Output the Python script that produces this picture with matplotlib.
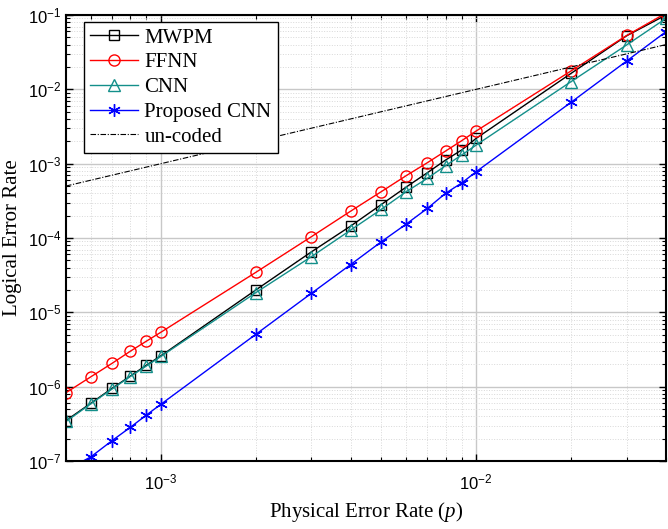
import matplotlib
matplotlib.use("Agg")
import matplotlib.pyplot as plt
from matplotlib.ticker import LogLocator, NullFormatter, FixedLocator, LogFormatterSciNotation
from matplotlib.lines import Line2D

p = [5e-4, 6e-4, 7e-4, 8e-4, 9e-4, 1e-3, 2e-3, 3e-3, 4e-3, 5e-3,
     6e-3, 7e-3, 8e-3, 9e-3, 1e-2, 2e-2, 3e-2, 4e-2]

mwpm = [3.5e-7, 6.0e-7, 9.5e-7, 1.39e-6, 1.95e-6, 2.6e-6, 2.0e-5, 6.5e-5, 1.45e-4, 2.82e-4,
        4.85e-4, 7.55e-4, 1.12e-3, 1.53e-3, 2.19e-3, 1.64e-2, 5.25e-2, 1.0e-1]
ffnn = [8.3e-7, 1.36e-6, 2.06e-6, 3.0e-6, 4.1e-6, 5.4e-6, 3.45e-5, 1.04e-4, 2.3e-4, 4.2e-4,
        6.9e-4, 1.03e-3, 1.48e-3, 2.04e-3, 2.75e-3, 1.77e-2, 5.3e-2, 1.06e-1]
cnn = [3.4e-7, 5.9e-7, 9.3e-7, 1.37e-6, 1.9e-6, 2.55e-6, 1.84e-5, 5.6e-5, 1.28e-4, 2.43e-4,
       4.2e-4, 6.35e-4, 9.4e-4, 1.31e-3, 1.78e-3, 1.27e-2, 3.95e-2, 9.0e-2]
proposed = [7.5e-8, 1.14e-7, 1.88e-7, 2.84e-7, 4.16e-7, 5.8e-7, 5.06e-6, 1.8e-5, 4.4e-5, 8.9e-5,
            1.54e-4, 2.5e-4, 4.0e-4, 5.5e-4, 7.8e-4, 6.7e-3, 2.4e-2, 5.97e-2]
uncoded_p = [5e-4, 4e-2]
uncoded = [5e-4, 4e-2]

x_major = [1e-3, 1e-2]
y_major = [1e-7, 1e-6, 1e-5, 1e-4, 1e-3, 1e-2, 1e-1]

labels = ['MWPM', 'FFNN', 'CNN', 'Proposed CNN', 'un-coded']

serif = ['Liberation Serif', 'DejaVu Serif']

plt.rcParams['font.family'] = ['Liberation Sans', 'DejaVu Sans']
plt.rcParams['mathtext.fontset'] = 'custom'
plt.rcParams['mathtext.rm'] = 'Liberation Sans'
plt.rcParams['mathtext.it'] = 'Liberation Serif:italic'
plt.rcParams['mathtext.bf'] = 'Liberation Sans:bold'
plt.rcParams['xtick.labelsize'] = 12
plt.rcParams['ytick.labelsize'] = 12

TEAL = '#138f8a'

fig = plt.figure(figsize=(6.68, 5.29), dpi=100)
ax = fig.add_axes([66/668, 68/529, 600/668, 446/529])

ax.plot(p, mwpm, color='black', lw=1, marker='s', mfc='none', mec='black', ms=7, mew=1)
ax.plot(p, ffnn, color='red', lw=1, marker='o', mfc='none', mec='red', ms=8, mew=1)
ax.plot(p, cnn, color=TEAL, lw=1, marker='^', mfc='none', mec=TEAL, ms=8, mew=1)
ax.plot(p, proposed, color='blue', lw=1, marker=(6, 2, 0), mec='blue', ms=9, mew=1)
ax.plot(uncoded_p, uncoded, color='black', lw=0.8, dashes=[5, 1.5, 1, 1.5])

ax.set_xscale('log')
ax.set_yscale('log')
ax.set_xlim(5e-4, 4e-2)
ax.set_ylim(1e-7, 1e-1)

ax.xaxis.set_major_locator(FixedLocator(x_major))
ax.yaxis.set_major_locator(FixedLocator(y_major))
ax.xaxis.set_major_formatter(LogFormatterSciNotation())
ax.yaxis.set_major_formatter(LogFormatterSciNotation())
ax.xaxis.set_minor_locator(LogLocator(base=10, subs=range(2, 10), numticks=20))
ax.yaxis.set_minor_locator(LogLocator(base=10, subs=range(2, 10), numticks=20))
ax.xaxis.set_minor_formatter(NullFormatter())
ax.yaxis.set_minor_formatter(NullFormatter())

ax.grid(True, which='major', color='#c8c8c8', lw=1, ls='-')
ax.grid(True, which='minor', color='#d8d8d8', lw=0.7, ls=':')
ax.set_axisbelow(True)

ax.tick_params(which='both', direction='in', top=True, right=True)
ax.tick_params(which='major', length=5, width=1)
ax.tick_params(which='minor', length=3, width=0.8)
ax.tick_params(axis='x', pad=8)

for s in ax.spines.values():
    s.set_linewidth(1.5)

ax.set_xlabel('Physical Error Rate ($p$)', fontsize=15, family=serif, labelpad=6)
ax.set_ylabel('Logical Error Rate', fontsize=15, family=serif, labelpad=4)

handles = [
    Line2D([], [], color='black', lw=1, marker='s', mfc='none', mec='black', ms=7),
    Line2D([], [], color='red', lw=1, marker='o', mfc='none', mec='red', ms=8),
    Line2D([], [], color=TEAL, lw=1, marker='^', mfc='none', mec=TEAL, ms=8),
    Line2D([], [], color='blue', lw=1, marker=(6, 2, 0), mec='blue', ms=9),
    Line2D([], [], color='black', lw=0.8, dashes=[5, 1.5, 1, 1.5]),
]
leg = ax.legend(handles, labels, loc='upper left', bbox_to_anchor=(0.03, 0.985),
                prop={'family': serif, 'size': 15}, frameon=True, fancybox=False,
                edgecolor='black', framealpha=1, handlelength=2.3, borderpad=0.3,
                labelspacing=0.25, handletextpad=0.3, borderaxespad=0)
leg.get_frame().set_linewidth(1)

fig.savefig('out.png', dpi=100)
